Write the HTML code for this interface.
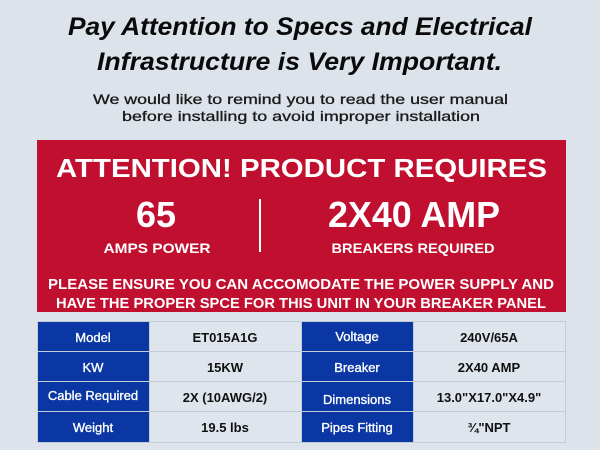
<!DOCTYPE html>
<html><head><meta charset="utf-8"><style>
html,body{margin:0;padding:0;background:#dde3ea;}
svg{display:block;}
text{font-family:"Liberation Sans",sans-serif;}
</style></head><body>
<svg width="600" height="450" viewBox="0 0 600 450" xmlns="http://www.w3.org/2000/svg">
<rect width="600" height="450" fill="#dde3ea"/>
<g font-weight="bold" font-style="italic" font-size="25" fill="#0a0a0a">
<text x="68" y="35" textLength="464" lengthAdjust="spacingAndGlyphs">Pay Attention to Specs and Electrical</text>
<text x="97" y="70" textLength="405" lengthAdjust="spacingAndGlyphs">Infrastructure is Very Important.</text>
</g>
<g font-size="14" fill="#1a1a1a" stroke="#1a1a1a" stroke-width="0.3">
<text x="93" y="104" textLength="415" lengthAdjust="spacingAndGlyphs">We would like to remind you to read the user manual</text>
<text x="122" y="121" textLength="358" lengthAdjust="spacingAndGlyphs">before installing to avoid improper installation</text>
</g>
<rect x="37" y="140" width="529" height="172" fill="#c10f2f"/>
<g fill="#fff" font-weight="bold">
<text x="56" y="177" font-size="26" textLength="491" lengthAdjust="spacingAndGlyphs">ATTENTION! PRODUCT REQUIRES</text>
<text x="156" y="227" font-size="36" text-anchor="middle">65</text>
<text x="157" y="253" font-size="14" text-anchor="middle" textLength="107" lengthAdjust="spacingAndGlyphs">AMPS POWER</text>
<text x="414" y="227" font-size="36" text-anchor="middle" textLength="172" lengthAdjust="spacingAndGlyphs">2X40 AMP</text>
<text x="413" y="253" font-size="14" text-anchor="middle" textLength="163" lengthAdjust="spacingAndGlyphs">BREAKERS REQUIRED</text>
<text x="48" y="289" font-size="15" textLength="506" lengthAdjust="spacingAndGlyphs">PLEASE ENSURE YOU CAN ACCOMODATE THE POWER SUPPLY AND</text>
<text x="56" y="308" font-size="15" textLength="490" lengthAdjust="spacingAndGlyphs">HAVE THE PROPER SPCE FOR THIS UNIT IN YOUR BREAKER PANEL</text>
</g>
<rect x="259" y="199" width="2" height="53" fill="#fff"/>
<rect x="37" y="321" width="529" height="122" fill="#c3cdd9"/>
<g>
<rect x="38" y="322" width="111" height="29" fill="#0a37a3"/><rect x="150" y="322" width="151" height="29" fill="#dfe5ed"/><rect x="302" y="322" width="111" height="29" fill="#0a37a3"/><rect x="414" y="322" width="151" height="29" fill="#dfe5ed"/>
<rect x="38" y="352" width="111" height="29" fill="#0a37a3"/><rect x="150" y="352" width="151" height="29" fill="#dfe5ed"/><rect x="302" y="352" width="111" height="29" fill="#0a37a3"/><rect x="414" y="352" width="151" height="29" fill="#dfe5ed"/>
<rect x="38" y="382" width="111" height="29" fill="#0a37a3"/><rect x="150" y="382" width="151" height="29" fill="#dfe5ed"/><rect x="302" y="382" width="111" height="29" fill="#0a37a3"/><rect x="414" y="382" width="151" height="29" fill="#dfe5ed"/>
<rect x="38" y="412" width="111" height="30" fill="#0a37a3"/><rect x="150" y="412" width="151" height="30" fill="#dfe5ed"/><rect x="302" y="412" width="111" height="30" fill="#0a37a3"/><rect x="414" y="412" width="151" height="30" fill="#dfe5ed"/>
</g>
<g font-size="13" text-anchor="middle" fill="#fff" stroke="#fff" stroke-width="0.35">
<text x="93" y="342">Model</text><text x="357" y="341">Voltage</text>
<text x="93" y="372">KW</text><text x="357" y="372">Breaker</text>
<text x="93" y="400">Cable Required</text><text x="357" y="404">Dimensions</text>
<text x="93" y="432">Weight</text><text x="357" y="432">Pipes Fitting</text>
</g>
<g font-size="13" text-anchor="middle" fill="#111" font-weight="bold">
<text x="225" y="342">ET015A1G</text><text x="489" y="342">240V/65A</text>
<text x="225" y="372">15KW</text><text x="489" y="372">2X40 AMP</text>
<text x="225" y="402">2X (10AWG/2)</text><text x="489" y="402">13.0"X17.0"X4.9"</text>
<text x="225" y="432">19.5 lbs</text><text x="489" y="432">¾"NPT</text>
</g>
</svg>
</body></html>
